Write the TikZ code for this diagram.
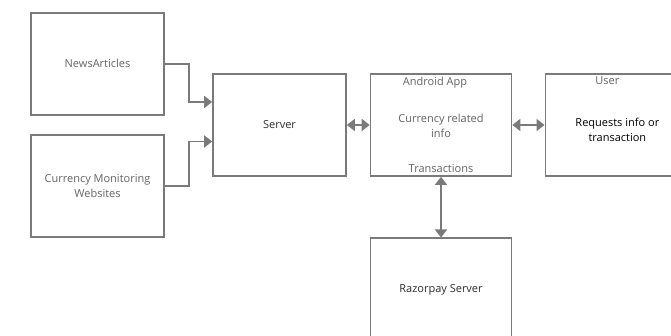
\documentclass[tikz,border=0pt]{standalone}
\usepackage{fontspec}
\setmainfont{Open Sans}
\usepackage{tikz}
\usetikzlibrary{arrows.meta,positioning}
\definecolor{linegray}{RGB}{122,122,122}
\definecolor{softtext}{RGB}{100,100,100}
\definecolor{darktext}{RGB}{45,45,45}
\tikzset{
  block/.style={draw=linegray,line width=1.7pt,fill=white,
    minimum width=133pt,minimum height=102pt,inner sep=0pt},
  txt/.style={font=\fontsize{11}{15}\selectfont,text=softtext,align=center,inner sep=0pt},
  dtxt/.style={txt,text=darktext},
  feed/.style={-{Triangle[length=8pt,width=12pt]},line width=1.7pt,draw=linegray},
  link/.style={{Triangle[length=8pt,width=12pt]}-{Triangle[length=8pt,width=12pt]},
    line width=1.7pt,draw=linegray}
}
\begin{document}
\begin{tikzpicture}[x=1pt,y=-1pt]
  \clip (0,0) rectangle (671,336);
  \fill[white] (0,0) rectangle (671,336);
  % sources
  \node[block] (news) at (97.5,64) {};
  \node[block] (cmon) at (97.5,186) {};
  \node[txt] at ([yshift=1pt]news) {NewsArticles};
  \node[txt] at (cmon) {Currency Monitoring\\Websites};
  % server and app
  \node[block] (srv) at (279.5,125) {};
  \node[dtxt] at (srv) {Server};
  \node[block,minimum width=141pt] (app) at (441,125) {};
  \node[txt,below=4pt of app.north,xshift=-6pt] (apptitle) {Android App};
  \node[txt] (appinfo) at ([yshift=-1pt]app.center) {Currency related\\info};
  \node[txt,above=4pt of app.south] (apptx) {Transactions};
  % user
  \node[block,minimum width=146pt,anchor=west] (usr) at (544.5,125) {};
  \node[txt,below=3pt of usr.north,xshift=-11pt] (usrtitle) {User};
  \node[dtxt,text=black] (usrreq) at ([xshift=-1pt,yshift=-5pt]usr.center) {Requests info or\\transaction};
  % payment gateway
  \node[block,minimum width=141pt,anchor=north] (pay) at (441,237.5) {};
  \node[dtxt] at (pay.center) {Razorpay Server};
  % connectors
  \draw[feed] (news.east) -| ++(24,39) |- ([yshift=23pt]srv.west);
  \draw[feed] (cmon.east) -| ++(24,-44.5) |- ([yshift=-16.5pt]srv.west);
  \draw[link] (srv) -- (app);
  \draw[link] (app) -- (usr);
  \draw[link] (app) -- (pay);
\end{tikzpicture}
\end{document}
